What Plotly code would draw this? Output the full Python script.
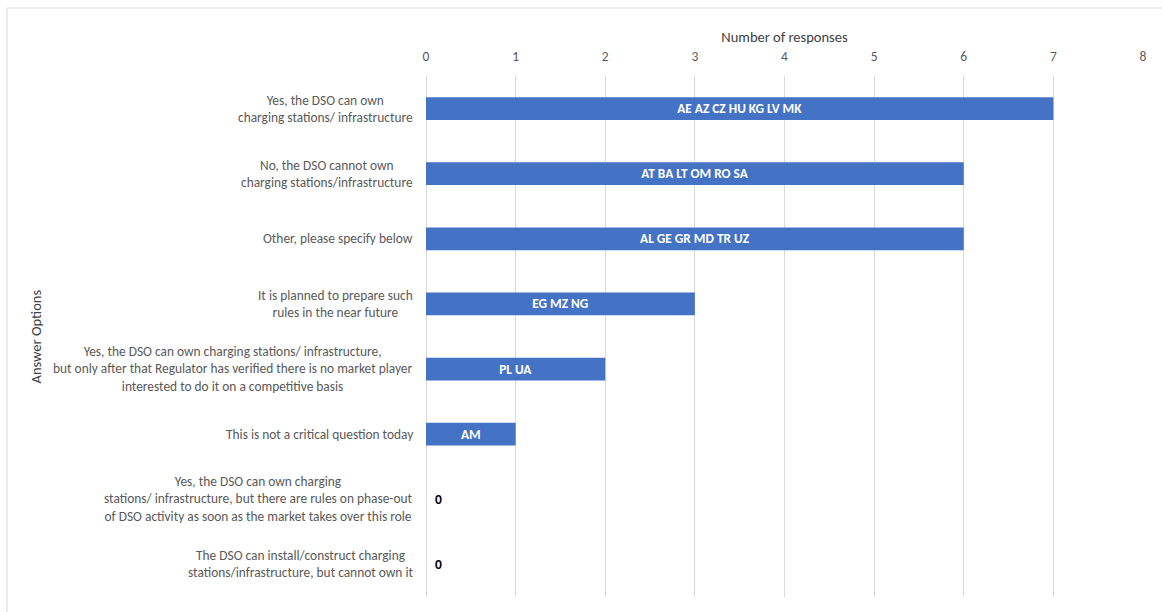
import plotly.graph_objects as go

categories = [
    "Yes, the DSO can own<br>charging stations/ infrastructure",
    "No, the DSO cannot own<br>charging stations/infrastructure",
    "Other, please specify below",
    "It is planned to prepare such<br>rules in the near future",
    "Yes, the DSO can own charging stations/ infrastructure,<br>but only after that Regulator has verified there is no market player<br>interested to do it on a competitive basis",
    "This is not a critical question today",
    "Yes, the DSO can own charging<br>stations/ infrastructure, but there are rules on phase-out<br>of DSO activity as soon as the market takes over this role",
    "The DSO can install/construct charging<br>stations/infrastructure, but cannot own it",
]
values = [7, 6, 6, 3, 2, 1, 0, 0]
bar_labels = [
    "AE AZ CZ HU KG LV MK",
    "AT BA LT OM RO SA",
    "AL GE GR MD TR UZ",
    "EG MZ NG",
    "PL UA",
    "AM",
    "0",
    "0",
]
x_ticks = [0, 1, 2, 3, 4, 5, 6, 7, 8]

FONT = "Calibri, Carlito, Lato, sans-serif"
GREY = "#595959"

positions = ["inside" if v > 0 else "outside" for v in values]
texts = [f"<b>{t}</b>" if v > 0 else f"&nbsp;&nbsp;<b>{t}</b>" for t, v in zip(bar_labels, values)]

fig = go.Figure(go.Bar(
    x=values,
    y=categories,
    orientation="h",
    text=texts,
    textposition=positions,
    insidetextanchor="middle",
    textangle=0,
    insidetextfont=dict(color="white", size=13.5, family=FONT),
    outsidetextfont=dict(color="black", size=13.5, family=FONT),
    marker=dict(color="#4472C4", line=dict(width=0)),
    cliponaxis=False,
    hoverinfo="skip",
))

annotations = []
for c in categories:
    annotations.append(dict(
        x=0, xref="paper", xshift=-11, xanchor="right",
        y=c, yref="y", yanchor="middle",
        text=c, align="center", showarrow=False,
        font=dict(family=FONT, size=13.4, color=GREY),
    ))
annotations.append(dict(
    x=(35 - 426) / 717, xref="paper", xanchor="center",
    y=0.5, yref="paper", yanchor="middle",
    text="Answer Options", textangle=-90, showarrow=False,
    font=dict(family=FONT, size=14.5, color="#404040"),
))

fig.update_layout(
    width=1162, height=612,
    margin=dict(l=426, r=19, t=76, b=15),
    paper_bgcolor="white", plot_bgcolor="white",
    bargap=0.65,
    showlegend=False,
    font=dict(family=FONT, size=13.5, color=GREY),
    xaxis=dict(
        side="top", range=[0, 8], tickvals=x_ticks, ticktext=[str(t) for t in x_ticks],
        showgrid=True, gridcolor="#D9D9D9", gridwidth=1,
        zeroline=True, zerolinecolor="#D9D9D9", zerolinewidth=1,
        showline=False, ticks="", ticklabelstandoff=11,
        tickfont=dict(family=FONT, size=13.5, color=GREY),
        title=dict(text="Number of responses", standoff=2,
                   font=dict(family=FONT, size=14.5, color="#404040")),
    ),
    yaxis=dict(
        type="category", categoryorder="array", categoryarray=categories,
        range=[7.5, -0.5], showticklabels=False, showgrid=False,
        zeroline=False, showline=False, ticks="",
    ),
    annotations=annotations,
    shapes=[dict(
        type="rect", xref="paper", yref="paper",
        x0=(7 - 426) / 717, x1=(1180 - 426) / 717,
        y0=-0.1, y1=(597 - 8) / 521,
        line=dict(color="#D9D9D9", width=1), fillcolor="rgba(0,0,0,0)",
        layer="below",
    )],
)

fig.write_html("out.html")
